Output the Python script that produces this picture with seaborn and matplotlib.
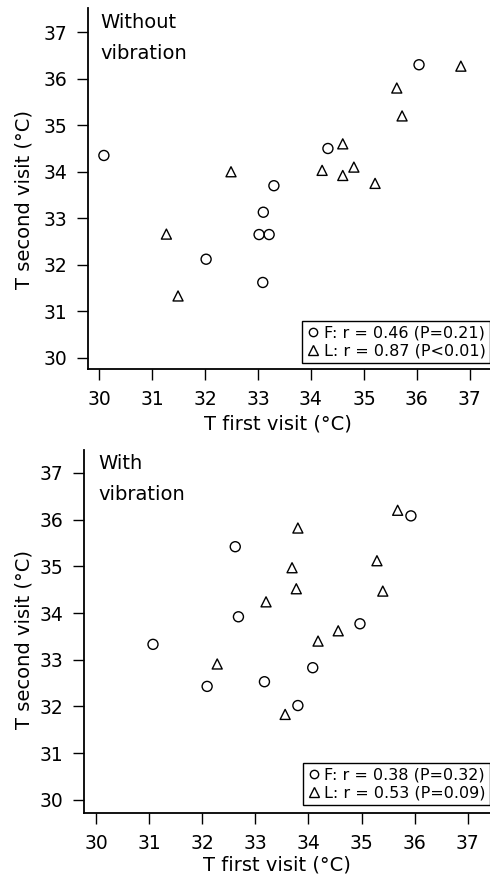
import pandas as pd
import seaborn as sns
import matplotlib.pyplot as plt
from matplotlib.lines import Line2D

# dados - sem vibracao
sem_F_x = [30.09, 34.32, 33.30, 33.10, 33.02, 33.21, 32.02, 33.09, 36.04]
sem_F_y = [34.35, 34.50, 33.70, 33.13, 32.65, 32.65, 32.12, 31.62, 36.30]
sem_L_x = [32.49, 34.21, 34.60, 34.60, 34.81, 35.21, 35.62, 35.72, 36.83, 31.27, 31.49]
sem_L_y = [34.00, 34.03, 34.60, 33.92, 34.10, 33.75, 35.80, 35.20, 36.27, 32.66, 31.33]

# dados - com vibracao
com_F_x = [31.07, 32.62, 32.68, 34.97, 35.93, 32.09, 33.17, 34.08, 33.80]
com_F_y = [33.33, 35.42, 33.92, 33.77, 36.08, 32.43, 32.53, 32.83, 32.02]
com_L_x = [33.80, 33.69, 33.77, 33.20, 34.18, 34.56, 35.29, 35.40, 35.68, 32.28, 33.56]
com_L_y = [35.82, 34.97, 34.52, 34.24, 33.40, 33.62, 35.12, 34.47, 36.20, 32.91, 31.83]

titulos = ["Without\nvibration", "With\nvibration"]
legendas = [["F: r = 0.46 (P=0.21)", "L: r = 0.87 (P<0.01)"],
            ["F: r = 0.38 (P=0.32)", "L: r = 0.53 (P=0.09)"]]
ticks = [30, 31, 32, 33, 34, 35, 36, 37]


def monta(fx, fy, lx, ly):
    return pd.DataFrame({
        "x": fx + lx,
        "y": fy + ly,
        "grupo": ["F"] * len(fx) + ["L"] * len(lx),
    })


dados = [monta(sem_F_x, sem_F_y, sem_L_x, sem_L_y),
         monta(com_F_x, com_F_y, com_L_x, com_L_y)]

sns.set_style("ticks", {"text.color": "black", "axes.labelcolor": "black",
                        "xtick.color": "black", "ytick.color": "black",
                        "axes.edgecolor": "black"})
plt.rcParams["font.family"] = ["DejaVu Sans"]

fig = plt.figure(figsize=(4.9, 8.82), dpi=100)
ax1 = fig.add_axes([88 / 490, 1 - 369 / 882, 402 / 490, 361 / 882])
ax2 = fig.add_axes([84 / 490, 1 - 813 / 882, 406 / 490, 363 / 882])
eixos = [ax1, ax2]
limx = [(29.79, 37.38), (29.77, 37.42)]
limy = [(29.76, 37.52), (29.72, 37.49)]
pos_xlabel = [(0.473, -0.125), (0.475, -0.116)]
pos_ylabel = [(-0.135, 0.47), (-0.124, 0.479)]
pos_titulo = [(0.03, 0.985), (0.036, 0.988)]
pos_legenda = [(1.0, 0.017), (1.0, 0.022)]

for i, ax in enumerate(eixos):
    sns.scatterplot(data=dados[i], x="x", y="y", style="grupo",
                    markers={"F": "o", "L": "^"}, s=52,
                    facecolor="none", edgecolor="black", linewidth=1.0,
                    legend=False, ax=ax)
    ax.set_xlim(limx[i])
    ax.set_ylim(limy[i])
    ax.set_xticks(ticks)
    ax.set_yticks(ticks)
    ax.tick_params(labelsize=13.5, length=8, width=1, pad=7)
    for lado in ["top", "right"]:
        ax.spines[lado].set_visible(False)
    for lado in ["left", "bottom"]:
        ax.spines[lado].set_linewidth(1.3)
    ax.set_xlabel("T first visit (°C)", fontsize=14)
    ax.set_ylabel("T second visit (°C)", fontsize=14)
    ax.xaxis.set_label_coords(*pos_xlabel[i])
    ax.yaxis.set_label_coords(*pos_ylabel[i])
    ax.text(pos_titulo[i][0], pos_titulo[i][1], titulos[i], transform=ax.transAxes,
            fontsize=14, va="top", ha="left", linespacing=1.8)

    h = [Line2D([], [], marker="o", ls="none", mfc="none", mec="black", ms=6, mew=1),
         Line2D([], [], marker="^", ls="none", mfc="none", mec="black", ms=7, mew=1)]
    leg = ax.legend(h, legendas[i], loc="lower right", bbox_to_anchor=pos_legenda[i],
                    fontsize=11.5, frameon=True, fancybox=False, framealpha=1,
                    handlelength=0.8, handletextpad=0.25, labelspacing=0.2,
                    borderpad=0.28, borderaxespad=0)
    leg.get_frame().set_edgecolor("black")
    leg.get_frame().set_linewidth(1.0)

fig.savefig("out.png", dpi=100)
